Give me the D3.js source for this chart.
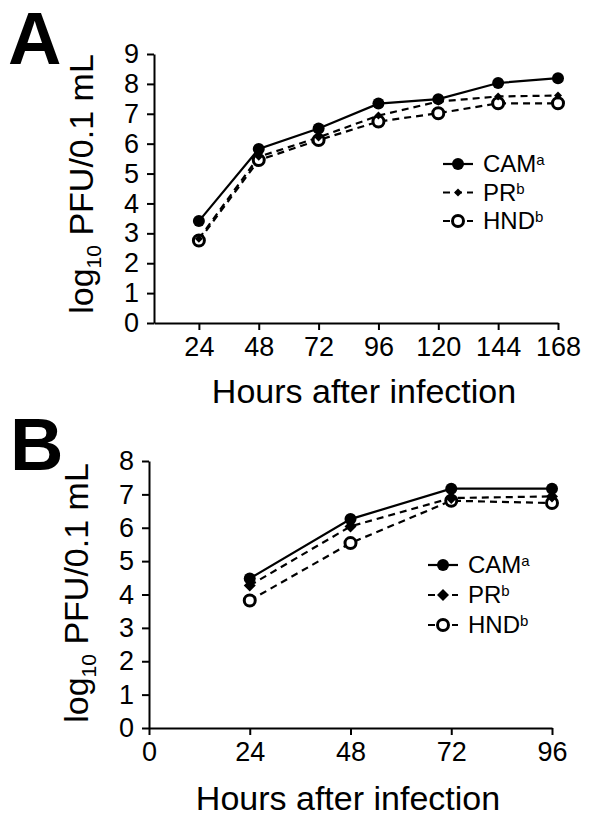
<!DOCTYPE html>
<html>
<head>
<meta charset="utf-8">
<script src="https://cdnjs.cloudflare.com/ajax/libs/d3/7.8.5/d3.min.js"></script>
<style>
  body { margin: 0; background: #fff; }
  svg { display: block; font-family: "Liberation Sans", Arial, sans-serif; }
  .axis path, .axis line { stroke: #000; stroke-width: 2; }
  .axis text { font-size: 27px; fill: #000; }
</style>
</head>
<body>
<script>
// panel A data
var hoursA = [24, 48, 72, 96, 120, 144, 168];
var camA = [3.41, 5.82, 6.51, 7.34, 7.49, 8.03, 8.19];
var prA = [2.82, 5.56, 6.21, 6.94, 7.41, 7.58, 7.61];
var hndA = [2.76, 5.45, 6.12, 6.74, 7.02, 7.35, 7.35];
var yTicksA = [0, 1, 2, 3, 4, 5, 6, 7, 8, 9];

// panel B data
var hoursB = [24, 48, 72, 96];
var camB = [4.48, 6.26, 7.17, 7.17];
var prB = [4.27, 6.04, 6.89, 6.94];
var hndB = [3.82, 5.54, 6.81, 6.74];
var xTicksB = [0, 24, 48, 72, 96];
var yTicksB = [0, 1, 2, 3, 4, 5, 6, 7, 8];

var seriesNames = ["CAM", "PR", "HND"];
var seriesSup = ["a", "b", "b"];

var svg = d3.select("body").append("svg")
    .attr("width", 600)
    .attr("height", 829);

function drawPanel(p) {
    var x = d3.scaleLinear().domain(p.xDomain).range([p.left, p.right]);
    var y = d3.scaleLinear().domain(p.yDomain).range([p.bottom, p.top]);
    var g = svg.append("g");

    g.append("g")
        .attr("class", "axis")
        .attr("transform", "translate(0," + p.bottom + ")")
        .call(d3.axisBottom(x).tickValues(p.xTicks).tickSize(7).tickSizeOuter(0).tickPadding(7));

    g.append("g")
        .attr("class", "axis")
        .attr("transform", "translate(" + p.left + ",0)")
        .call(d3.axisLeft(y).tickValues(p.yTicks).tickSize(7).tickSizeOuter(0).tickPadding(8));

    // axis titles
    g.append("text")
        .attr("x", p.xTitleX)
        .attr("y", p.xTitleY)
        .attr("text-anchor", "middle")
        .style("font-size", "34px")
        .text("Hours after infection");

    var yt = g.append("text")
        .attr("transform", "translate(" + p.yTitleX + "," + p.yTitleY + ") rotate(-90)")
        .attr("text-anchor", "middle")
        .style("font-size", "34px");
    yt.append("tspan").text("log");
    yt.append("tspan").attr("dy", 8).style("font-size", "21px").text("10");
    yt.append("tspan").attr("dy", -8).text(" PFU/0.1 mL");

    // panel letter
    g.append("text")
        .attr("x", p.letterX)
        .attr("y", p.letterY)
        .style("font-size", "74px")
        .style("font-weight", "bold")
        .text(p.letter);

    var series = [p.cam, p.pr, p.hnd];
    var dashes = [null, "7,5", "7,5"];

    var line = d3.line()
        .x(function (d) { return x(d[0]); })
        .y(function (d) { return y(d[1]); });

    series.forEach(function (vals, i) {
        var pts = p.hours.map(function (h, j) { return [h, vals[j]]; });
        g.append("path")
            .datum(pts)
            .attr("d", line)
            .attr("fill", "none")
            .attr("stroke", "#000")
            .attr("stroke-width", 2.2)
            .attr("stroke-dasharray", dashes[i]);
    });

    function marker(sel, i, cx, cy) {
        if (i === 0) {
            sel.append("circle").attr("cx", cx).attr("cy", cy).attr("r", 6).attr("fill", "#000");
        } else if (i === 1) {
            var s = p.diamond;
            sel.append("path")
                .attr("d", "M" + cx + "," + (cy - s) + "L" + (cx + s) + "," + cy + "L" + cx + "," + (cy + s) + "L" + (cx - s) + "," + cy + "Z")
                .attr("fill", "#000");
        } else {
            sel.append("circle").attr("cx", cx).attr("cy", cy).attr("r", 5.5)
                .attr("fill", "#fff").attr("stroke", "#000").attr("stroke-width", 3);
        }
    }

    // draw markers: HND and PR under CAM
    [2, 1, 0].forEach(function (i) {
        p.hours.forEach(function (h, j) {
            marker(g, i, x(h), y(series[i][j]));
        });
    });

    // legend
    seriesNames.forEach(function (name, i) {
        var ly = p.legendY + i * p.legendStep;
        g.append("line")
            .attr("x1", p.legendX).attr("x2", p.legendX + 30)
            .attr("y1", ly).attr("y2", ly)
            .attr("stroke", "#000").attr("stroke-width", 2.2)
            .attr("stroke-dasharray", dashes[i]);
        marker(g, i, p.legendX + 15, ly);
        var t = g.append("text")
            .attr("x", p.legendX + 40)
            .attr("y", ly + 8)
            .style("font-size", "24px");
        t.append("tspan").text(name);
        t.append("tspan").attr("dy", -7).style("font-size", "15px").text(seriesSup[i]);
    });
}

drawPanel({
    letter: "A", letterX: 8, letterY: 64,
    hours: hoursA, cam: camA, pr: prA, hnd: hndA,
    xDomain: [6, 168], yDomain: [0, 9],
    xTicks: hoursA, yTicks: yTicksA,
    left: 154, right: 558, top: 54, bottom: 323,
    xTitleX: 364, xTitleY: 403,
    yTitleX: 93, yTitleY: 184,
    legendX: 443, legendY: 164, legendStep: 28.5,
    diamond: 4
});

drawPanel({
    letter: "B", letterX: 10, letterY: 470,
    hours: hoursB, cam: camB, pr: prB, hnd: hndB,
    xDomain: [0, 96], yDomain: [0, 8],
    xTicks: xTicksB, yTicks: yTicksB,
    left: 149, right: 552, top: 461, bottom: 728,
    xTitleX: 348, xTitleY: 810,
    yTitleX: 88, yTitleY: 593,
    legendX: 428, legendY: 565, legendStep: 30,
    diamond: 6
});
</script>
</body>
</html>
